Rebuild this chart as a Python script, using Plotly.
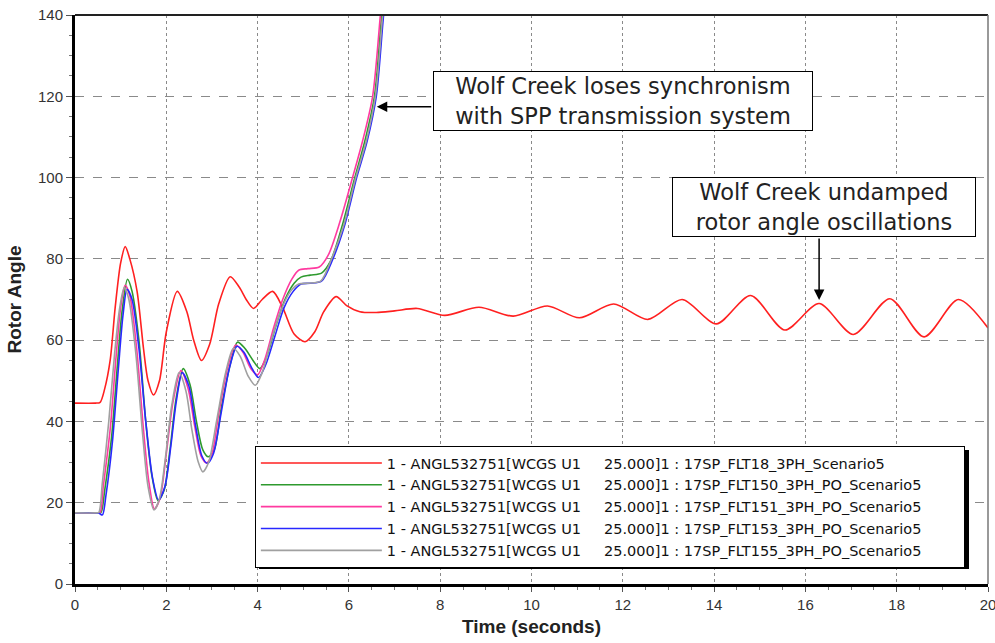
import plotly.graph_objects as go

# ---------------- data ----------------
t_flt18 = [0, 0.45, 0.55, 0.65, 0.77, 0.88, 1.0, 1.1, 1.2, 1.36, 1.5, 1.6, 1.72, 1.85, 2.0, 2.24,
           2.45, 2.6, 2.77, 2.95, 3.15, 3.4, 3.6, 3.75, 3.91, 4.1, 4.33, 4.55, 4.8, 5.04,
           5.25, 5.45, 5.72, 5.95, 6.24, 6.6, 7.0, 7.5, 8.1, 8.85, 9.6, 10.35, 11.05,
           11.8, 12.55, 13.3, 14.05, 14.8, 15.55, 16.3, 17.05, 17.85, 18.6, 19.35, 20.0]
v_flt18 = [44.5, 44.5, 44.7, 48, 55, 68, 79, 83, 80, 72, 58, 50, 46.5, 50, 62, 72,
           67, 60, 55, 59, 69, 75.6, 73, 70, 67.8, 70, 72, 68, 61.5, 59.6,
           62, 67, 70.7, 68.5, 67, 66.8, 67.2, 67.8, 66.1, 68.1, 65.9, 68.4, 65.5,
           68.9, 65.1, 70.0, 64.0, 71.0, 62.5, 69.0, 61.4, 70.2, 60.8, 70.0, 63.0]

t_flt150 = [0, 0.5, 0.57, 0.65, 0.8, 0.93, 1.03, 1.15, 1.25, 1.4, 1.55, 1.68, 1.82, 1.95, 2.08,
            2.22, 2.37, 2.52, 2.66, 2.8, 2.92, 3.05, 3.2, 3.4, 3.56, 3.72, 3.9, 4.05, 4.2,
            4.4, 4.6, 4.8, 4.95, 5.15, 5.4, 5.6, 5.85, 6.13, 6.35, 6.56, 6.72, 6.9]
v_flt150 = [17.5, 17.5, 17.6, 23, 36, 54, 67, 75, 72, 60, 40, 27, 20.5, 23, 33,
            46, 53, 49, 40, 33, 31.3, 33, 43, 54, 59.5, 58, 55, 53, 56,
            63.5, 70, 74, 75.5, 76, 76.5, 79.5, 88, 100, 109, 120, 140, 160]

t_flt151 = [0, 0.48, 0.55, 0.62, 0.77, 0.9, 1.0, 1.1, 1.2, 1.35, 1.5, 1.62, 1.74, 1.86, 2.0,
            2.15, 2.32, 2.48, 2.62, 2.76, 2.88, 3.0, 3.15, 3.35, 3.52, 3.68, 3.85, 4.0,
            4.15, 4.35, 4.55, 4.75, 4.9, 5.1, 5.35, 5.55, 5.8, 6.08, 6.3, 6.52, 6.69, 6.85]
v_flt151 = [17.5, 17.5, 17.6, 24, 38, 56, 68, 73.5, 71, 58, 38, 25, 18.5, 21, 32,
            45, 52.5, 48, 39, 31.5, 29.8, 32, 42, 53.5, 58.8, 57, 53, 51.5,
            55, 63, 70, 75, 77.2, 77.6, 78, 81, 89, 100, 109, 120, 140, 160]

t_flt153 = [0, 0.52, 0.6, 0.68, 0.82, 0.95, 1.05, 1.14, 1.25, 1.4, 1.55, 1.7, 1.83, 1.97, 2.1,
            2.22, 2.35, 2.5, 2.64, 2.78, 2.9, 3.03, 3.2, 3.38, 3.55, 3.7, 3.88, 4.02, 4.18,
            4.38, 4.58, 4.78, 4.95, 5.15, 5.4, 5.65, 5.9, 6.17, 6.4, 6.6, 6.76, 6.95]
v_flt153 = [17.5, 17.4, 17.0, 22, 35, 53, 66, 72.5, 70, 58, 40, 26, 20.7, 24, 34,
            45, 52, 48.5, 39, 31.5, 29.7, 32, 42, 53, 58.5, 57, 53, 50.8, 54,
            61, 68, 72, 73.8, 74, 74.5, 80, 88, 100, 109, 120, 140, 160]

t_flt155 = [0, 0.45, 0.52, 0.6, 0.74, 0.87, 0.98, 1.08, 1.18, 1.33, 1.48, 1.6, 1.73, 1.85, 1.98,
            2.12, 2.28, 2.43, 2.56, 2.7, 2.8, 2.93, 3.1, 3.3, 3.47, 3.62, 3.8, 3.95, 4.1,
            4.3, 4.5, 4.72, 4.9, 5.1, 5.38, 5.62, 5.88, 6.15, 6.38, 6.58, 6.74, 6.92]
v_flt155 = [17.5, 17.5, 17.6, 25, 40, 57, 68, 73, 70, 57, 37, 24, 18.2, 21, 31,
            44, 52, 47.5, 38, 30, 27.6, 30, 40, 52, 58, 56, 51, 48.9, 52,
            60, 67, 72, 73.8, 74, 74.5, 80, 88, 100, 109, 120, 140, 160]

NB = "\u00a0"
prefix = "1 - ANGL532751[WCGS U1" + NB * 5 + "25.000]1 : "
series_names = [prefix + "17SP_FLT18_3PH_Scenario5",
                prefix + "17SP_FLT150_3PH_PO_Scenario5",
                prefix + "17SP_FLT151_3PH_PO_Scenario5",
                prefix + "17SP_FLT153_3PH_PO_Scenario5",
                prefix + "17SP_FLT155_3PH_PO_Scenario5"]
series_t = [t_flt18, t_flt150, t_flt151, t_flt153, t_flt155]
series_v = [v_flt18, v_flt150, v_flt151, v_flt153, v_flt155]
series_colors = ["#ff2020", "#2e9a2e", "#ff3aa0", "#2828ff", "#a0a0a0"]

x_ticks = [0, 2, 4, 6, 8, 10, 12, 14, 16, 18, 20]
y_ticks = [0, 20, 40, 60, 80, 100, 120, 140]

# ---------------- figure ----------------
fig = go.Figure()
for name, tt, vv, col in zip(series_names, series_t, series_v, series_colors):
    fig.add_trace(go.Scatter(
        x=tt, y=vv, mode="lines", name=name + NB * 8,
        line=dict(color=col, width=1.6, shape="spline", smoothing=0.8),
    ))

font_family = "Liberation Sans, Arial, sans-serif"
wide_font = "DejaVu Sans, Verdana, sans-serif"

fig.update_layout(
    width=995, height=643,
    margin=dict(l=75, r=7, t=15, b=59, autoexpand=False),
    paper_bgcolor="white", plot_bgcolor="white",
    font=dict(family=font_family, color="#222"),
    showlegend=True,
    legend=dict(
        x=0.197, y=0.2425, xanchor="left", yanchor="top",
        bgcolor="white", bordercolor="black", borderwidth=1,
        font=dict(size=14.5, color="#111", family=wide_font),
        itemwidth=121,
    ),
    xaxis=dict(
        range=[0, 20], tickvals=x_ticks, ticktext=[str(v) for v in x_ticks],
        ticklabeloverflow="allow", automargin=False,
        showgrid=True, gridcolor="#8a8a8a", griddash="dot", gridwidth=1,
        showline=True, linecolor="black", linewidth=3, mirror=False,
        ticks="outside", ticklen=5, tickcolor="#555",
        minor=dict(dtick=0.5, ticks="outside", ticklen=3, tickcolor="#777", showgrid=False),
        tickfont=dict(size=15, color="#333"),
        title=dict(text="<b>Time (seconds)</b>", font=dict(size=19, color="#222"), standoff=8),
        zeroline=False,
    ),
    yaxis=dict(
        range=[0, 140], tickvals=y_ticks, ticktext=[str(v) for v in y_ticks],
        ticklabeloverflow="allow", automargin=False,
        showgrid=True, gridcolor="#8a8a8a", griddash="dash", gridwidth=1,
        showline=True, linecolor="black", linewidth=3, mirror=False,
        ticks="outside", ticklen=6, tickcolor="#555",
        minor=dict(dtick=5, ticks="outside", ticklen=3, tickcolor="#777", showgrid=False),
        tickfont=dict(size=15, color="#333"),
        title=dict(text="<b>Rotor Angle</b>", font=dict(size=19, color="#222"), standoff=12),
        zeroline=False,
    ),
)

# top and right frame
fig.add_shape(type="line", xref="paper", yref="paper", x0=0, x1=1, y0=1, y1=1,
              line=dict(color="#222", width=2))
fig.add_shape(type="line", xref="paper", yref="paper", x0=1, x1=1, y0=0, y1=1,
              line=dict(color="#777", width=1.5))

# legend drop shadow (right/bottom), drawn beneath the legend box
fig.add_shape(type="rect", xref="paper", yref="paper", layer="above",
              x0=(259 - 75) / 913, x1=(969 - 75) / 913,
              y0=(584 - 569) / 569, y1=(584 - 450) / 569,
              line=dict(width=0), fillcolor="black")

# annotation boxes
fig.add_annotation(x=12.0, y=118.9, xref="x", yref="y",
                   text="Wolf Creek loses synchronism<br>with SPP transmission system",
                   showarrow=False, bgcolor="white", bordercolor="black", borderwidth=1,
                   borderpad=0, width=378, height=58,
                   font=dict(size=22.5, color="#222", family=wide_font))
fig.add_annotation(x=16.41, y=92.7, xref="x", yref="y",
                   text="Wolf Creek undamped<br>rotor angle oscillations",
                   showarrow=False, bgcolor="white", bordercolor="black", borderwidth=1,
                   borderpad=0, width=302, height=58,
                   font=dict(size=22.5, color="#222", family=wide_font))
# arrows
fig.add_annotation(x=6.61, y=117.4, xref="x", yref="y", text="", showarrow=True,
                   ax=56, ay=0, arrowhead=2, arrowsize=1.4, arrowwidth=1.5, arrowcolor="black")
fig.add_annotation(x=16.30, y=69.85, xref="x", yref="y", text="", showarrow=True,
                   ax=0, ay=-63, arrowhead=2, arrowsize=1.4, arrowwidth=1.5, arrowcolor="black")

fig.write_html("out.html")
